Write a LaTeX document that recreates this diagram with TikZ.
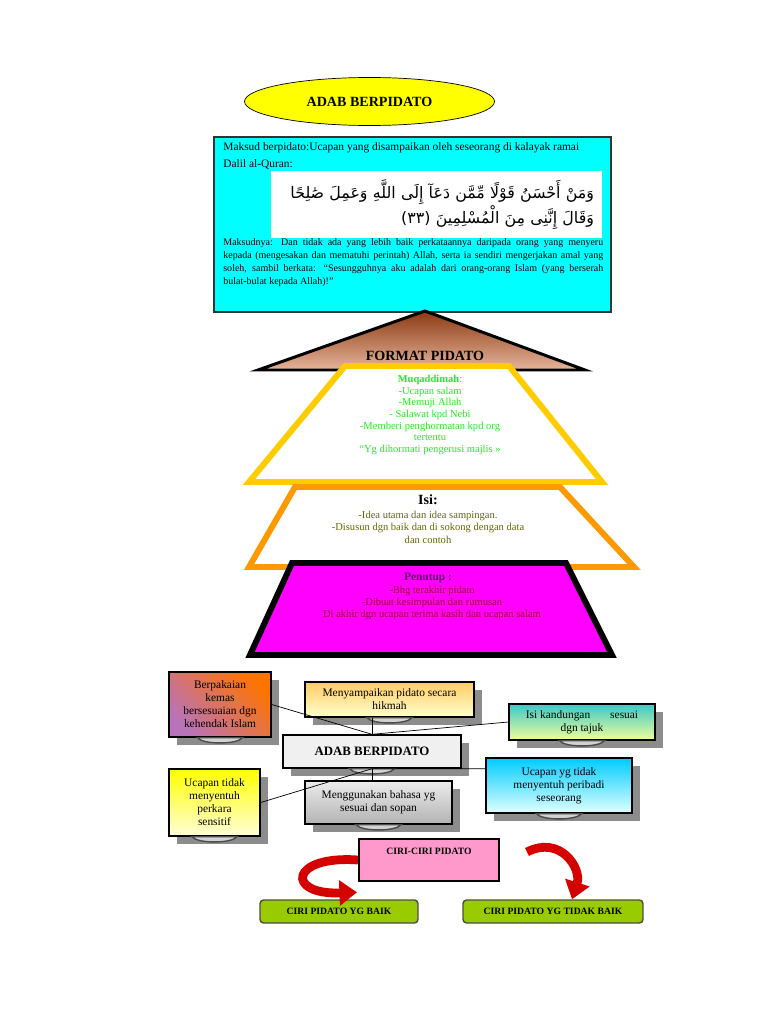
\documentclass[tikz,border=0pt]{standalone}
\usepackage{fontspec}
\setmainfont{Liberation Serif}
\newfontfamily\arabicfont[Script=Arabic]{DejaVu Sans}
\TeXXeTstate=1
\usetikzlibrary{arrows.meta,positioning,calc,shadows,shapes.geometric}
\definecolor{titleyellow}{HTML}{FFFF00}
\definecolor{introcyan}{HTML}{00FFFF}
\definecolor{introline}{HTML}{333333}
\definecolor{browntop}{HTML}{8B3A12}
\definecolor{brownbot}{HTML}{E6B49A}
\definecolor{muqline}{HTML}{FFCC00}
\definecolor{muqtext}{HTML}{22EE22}
\definecolor{isiline}{HTML}{FF9900}
\definecolor{isitext}{HTML}{666600}
\definecolor{penfill}{HTML}{FF00FF}
\definecolor{pentitle}{HTML}{660066}
\definecolor{pentext}{HTML}{990033}
\definecolor{cirifill}{HTML}{FF99CC}
\definecolor{jenisfill}{HTML}{99CC00}
\definecolor{arrowred}{HTML}{D40000}
\definecolor{shadowgray}{HTML}{8C8C8C}

\begin{document}
\begin{tikzpicture}[x=0.02cm,y=-0.02cm,font=\fontsize{6.5}{7.4}\selectfont,
 adabbox/.style={draw=black,thick,align=center,inner sep=2pt,
   drop shadow={shadow xshift=0.16cm,shadow yshift=-0.16cm,fill=shadowgray,opacity=1}},
 layer/.style={line width=3.4pt,line join=miter,fill=white},
 jenis/.style={draw=black!70,thick,fill=jenisfill,rounded corners=2pt,minimum height=0.46cm,
   font=\fontsize{5.5}{6}\selectfont\bfseries},
 curvearrow/.style={line width=5pt,arrowred,-{Triangle[length=10pt,width=14pt]}},
 foot/.style={draw=black!70,fill=gray!35,thick}]
\path[fill=white] (0,0) rectangle (768,1024);

\node[ellipse,draw,fill=titleyellow,minimum width=5cm,minimum height=0.96cm,
  font=\fontsize{8}{9}\selectfont\bfseries] (title) at (369.5,101.5) {ADAB BERPIDATO};
\node[draw=introline,thick,fill=introcyan,minimum width=7.94cm,minimum height=3.5cm] (intro) at (412.5,224.5) {};
\node[anchor=west,inner sep=0] (maksud) at (223,148) {Maksud berpidato:Ucapan yang disampaikan oleh seseorang di kalayak ramai};
\node[anchor=west,inner sep=0] (dalil) at (223,164) {Dalil al-Quran:};
\node[fill=white,minimum width=6.62cm,minimum height=1.34cm] (verse) at (436.5,204.5) {};
\node[align=right,text width=6.3cm,font=\arabicfont\fontsize{9}{14}\selectfont] (ayat) at (verse.center)
  {\beginR وَمَنْ أَحْسَنُ قَوْلًا مِّمَّن دَعَآ إِلَى اللَّهِ وَعَمِلَ صَٰلِحًا\endR\\
   \beginR وَقَالَ إِنَّنِى مِنَ الْمُسْلِمِينَ (٣٣)\endR};
\node[anchor=north west,inner sep=0,text width=7.6cm,align=justify,font=\fontsize{5.7}{7.4}\selectfont] (maksudnya) at (223,238)
  {Maksudnya: Dan tidak ada yang lebih baik perkataannya daripada orang yang menyeru\linebreak
   kepada (mengesakan dan mematuhi perintah) Allah, serta ia sendiri mengerjakan amal yang\linebreak
   soleh, sambil berkata: ``Sesungguhnya aku adalah dari orang-orang Islam (yang berserah\linebreak
   bulat-bulat kepada Allah)!''};

\draw[line width=1.7pt,line join=miter,top color=browntop,bottom color=brownbot] (425,311) -- (585,370) -- (258,370) -- cycle;
\node[font=\fontsize{8}{9}\selectfont\bfseries] (format) at (425,356) {FORMAT PIDATO};
\draw[layer,draw=muqline] (345,366) -- (509,366) -- (602,482) -- (249,482) -- cycle;
\draw[layer,draw=isiline] (295,487) -- (560,487) -- (634,567) -- (249,567) -- cycle;
\draw[layer,draw=black,fill=penfill] (292,563) -- (566,563) -- (612,655) -- (250,655) -- cycle;

\node[align=center,text=muqtext,font=\fontsize{6}{6.6}\selectfont] (muqaddimah) at (430,415)
  {\textbf{Muqaddimah}:\\-Ucapan salam\\-Memuji Allah\\- Salawat kpd Nebi\\-Memberi penghormatan kpd org\\tertentu\\``Yg dihormati pengerusi majlis »};
\node[font=\fontsize{8}{9}\selectfont\bfseries] (isi) at (428,500) {Isi:};
\node[align=center,text=isitext,font=\fontsize{6}{7.1}\selectfont] (isitext) at (428,527)
  {-Idea utama dan idea sampingan.\\-Disusun dgn baik dan di sokong dengan data\\dan contoh};
\node[text=pentitle,font=\fontsize{6.5}{7}\selectfont\bfseries] (penutup) at (428,578) {Penutup :};
\node[align=center,text=pentext,font=\fontsize{6}{6.6}\selectfont] (penutuptext) at (432,603)
  {-Bhg terakhir pidato\\-Dibuat kesimpulan dan rumusan\\Di akhir dgn ucapan terima kasih dan ucapan salam};

\node[adabbox,top color=orange!90!red,bottom color=violet!55,shading angle=-45,
  minimum width=2.04cm,minimum height=1.3cm] (pakaian) at (220,704.5)
  {Berpakaian\\kemas\\bersesuaian dgn\\kehendak Islam};
\node[adabbox,top color={rgb,255:red,255;green,204;blue,102},bottom color={rgb,255:red,255;green,255;blue,204},
  minimum width=3.38cm,minimum height=0.7cm] (hikmah) at (389.5,699.5) {Menyampaikan pidato secara\\hikmah};
\node[adabbox,top color={rgb,255:red,60;green,200;blue,200},bottom color={rgb,255:red,240;green,255;blue,153},
  minimum width=2.92cm,minimum height=0.72cm] (kandungan) at (582,722) {Isi kandungan\hspace{1.5em} sesuai\\dgn tajuk};
\node[adabbox,fill=gray!12,minimum width=3.56cm,minimum height=0.66cm,
  font=\fontsize{7.3}{9}\selectfont\bfseries] (adab) at (372,751.5) {ADAB BERPIDATO};
\node[adabbox,top color={rgb,255:red,0;green,204;blue,255},bottom color={rgb,255:red,224;green,255;blue,255},
  minimum width=2.92cm,minimum height=1.1cm] (peribadi) at (559,785.5) {Ucapan yg tidak\\menyentuh peribadi\\seseorang};
\node[adabbox,top color=titleyellow,bottom color=yellow!15,
  minimum width=1.82cm,minimum height=1.34cm] (sensitif) at (214.5,802.5) {Ucapan tidak\\menyentuh\\perkara\\sensitif};
\node[adabbox,top color=gray!15,bottom color=gray!60,
  minimum width=2.94cm,minimum height=0.86cm] (bahasa) at (378.5,802.5) {Menggunakan bahasa yg\\sesuai dan sopan};

\foreach \n in {pakaian,hikmah,kandungan,adab,peribadi,sensitif,bahasa}
  \draw[foot] ([xshift=-0.45cm]\n.south) .. controls ([xshift=-0.35cm,yshift=-0.14cm]\n.south)
    and ([xshift=0.35cm,yshift=-0.14cm]\n.south) .. ([xshift=0.45cm]\n.south) -- cycle;

\draw (pakaian.east) -- (adab.north) -- (kandungan.west);
\draw (hikmah.south -| adab.north) -- (adab.north);
\draw (sensitif.east) -- (adab.south) -- (adab.south -| peribadi.west);
\draw (adab.south) -- (bahasa.north -| adab.south);

\node[draw=black,line width=1.2pt,fill=cirifill,minimum width=2.8cm,text height=0.2cm,text depth=0.42cm,
  font=\fontsize{5.5}{6}\selectfont\bfseries] (ciri) at (429,860) {CIRI-CIRI PIDATO};
\node[jenis,minimum width=3.16cm] (baik) at (339,911.5) {CIRI PIDATO YG BAIK};
\node[jenis,minimum width=3.6cm] (tidakbaik) at (553,911.5) {CIRI PIDATO YG TIDAK BAIK};
\coordinate (tailright) at (527,852);
\draw[curvearrow] (ciri.west) .. controls (290,855) and (285,895) .. ([xshift=0.36cm,yshift=0.14cm]baik.north);
\draw[curvearrow] (tailright) .. controls (560,835) and (582,868) .. ([xshift=0.38cm]tidakbaik.north);
\end{tikzpicture}
\end{document}
